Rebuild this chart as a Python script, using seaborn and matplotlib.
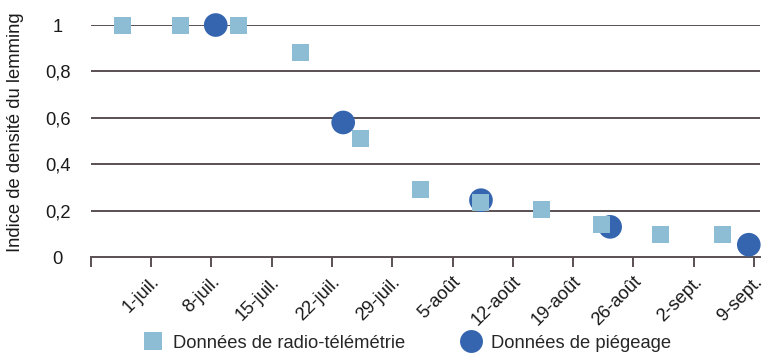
import matplotlib
matplotlib.use("Agg")
import matplotlib.pyplot as plt
import matplotlib.transforms as mtransforms
from matplotlib.lines import Line2D
import numpy as np
import pandas as pd
import seaborn as sns

# Days counted from 1 July
radio_days = [-3.3, 3.4, 10.2, 17.3, 24.3, 31.3, 38.3, 45.3, 52.3, 59.2, 66.3]
radio_values = [1.0, 1.0, 1.0, 0.88, 0.51, 0.29, 0.235, 0.205, 0.14, 0.095, 0.095]

trap_days = [7.5, 22.3, 38.3, 53.3, 69.4]
trap_values = [1.0, 0.58, 0.245, 0.13, 0.053]

tick_days = [-7, 0, 7, 14, 21, 28, 35, 42, 49, 56, 63, 70]
tick_labels = ["", "1-juil.", "8-juil.", "15-juil.", "22-juil.", "29-juil.",
               "5-août", "12-août", "19-août", "26-août", "2-sept.", "9-sept."]
y_ticks = [0, 0.2, 0.4, 0.6, 0.8, 1.0]
y_labels = ["0", "0,2", "0,4", "0,6", "0,8", "1"]

radio_name = "Données de radio-télémétrie"
trap_name = "Données de piégeage"

radio_color = "#8dbdd4"
trap_color = "#3465ae"
grid_color = "#5a4f52"
text_color = "#1a1a1a"
fs = 13.2

sns.set_theme(style="white")
plt.rcParams["font.family"] = ["Liberation Sans", "DejaVu Sans"]

radio_df = pd.DataFrame({"jour": radio_days, "indice": radio_values})
trap_df = pd.DataFrame({"jour": trap_days, "indice": trap_values})

fig = plt.figure(figsize=(7.7, 3.55), dpi=100)
ax = fig.add_axes([0.118, 0.276, 0.869, 0.6535])

sns.scatterplot(data=trap_df, x="jour", y="indice", ax=ax, marker="o",
                s=290, color=trap_color, edgecolor="none", linewidth=0,
                zorder=3, clip_on=False)
sns.scatterplot(data=radio_df, x="jour", y="indice", ax=ax, marker="s",
                s=150, color=radio_color, edgecolor="none", linewidth=0,
                zorder=4, clip_on=False)

ax.set_xlim(-7, 70.7)
ax.set_ylim(0, 1)

for yv in y_ticks[1:]:
    ax.axhline(yv, color=grid_color, lw=1.4, zorder=1)

for side in ["top", "right", "left"]:
    ax.spines[side].set_visible(False)
ax.spines["bottom"].set_color(grid_color)
ax.spines["bottom"].set_linewidth(1.4)
ax.spines["bottom"].set_zorder(2)

ax.set_xticks(tick_days)
ax.set_xticklabels(tick_labels, rotation=45, ha="right", va="center",
                   rotation_mode="anchor", fontsize=fs, color=text_color)
ax.tick_params(axis="x", direction="out", length=7, width=1.4, color=grid_color,
               pad=9, bottom=True)
# nudge the rotated date labels slightly right of their ticks
shift = mtransforms.ScaledTranslation(4 / 72, 0, fig.dpi_scale_trans)
for lbl in ax.get_xticklabels():
    lbl.set_transform(lbl.get_transform() + shift)

ax.set_yticks(y_ticks)
ax.set_yticklabels(y_labels, fontsize=fs, color=text_color, ha="center")
ax.tick_params(axis="y", length=0, pad=24)

ax.set_xlabel("")
ax.set_ylabel("Indice de densité du lemming", fontsize=fs, color=text_color)
ax.yaxis.set_label_coords(-0.1, 0.54)

handles = [
    Line2D([], [], marker="s", linestyle="none", markersize=12.3,
           markerfacecolor=radio_color, markeredgewidth=0),
    Line2D([], [], marker="o", linestyle="none", markersize=16.5,
           markerfacecolor=trap_color, markeredgewidth=0),
]
fig.legend(handles, [radio_name, trap_name], loc="center", ncol=2,
           bbox_to_anchor=(0.528, 0.033), frameon=False, fontsize=fs,
           handletextpad=0.5, columnspacing=3.0, handlelength=1.2)

fig.savefig("out.png", dpi=100)
